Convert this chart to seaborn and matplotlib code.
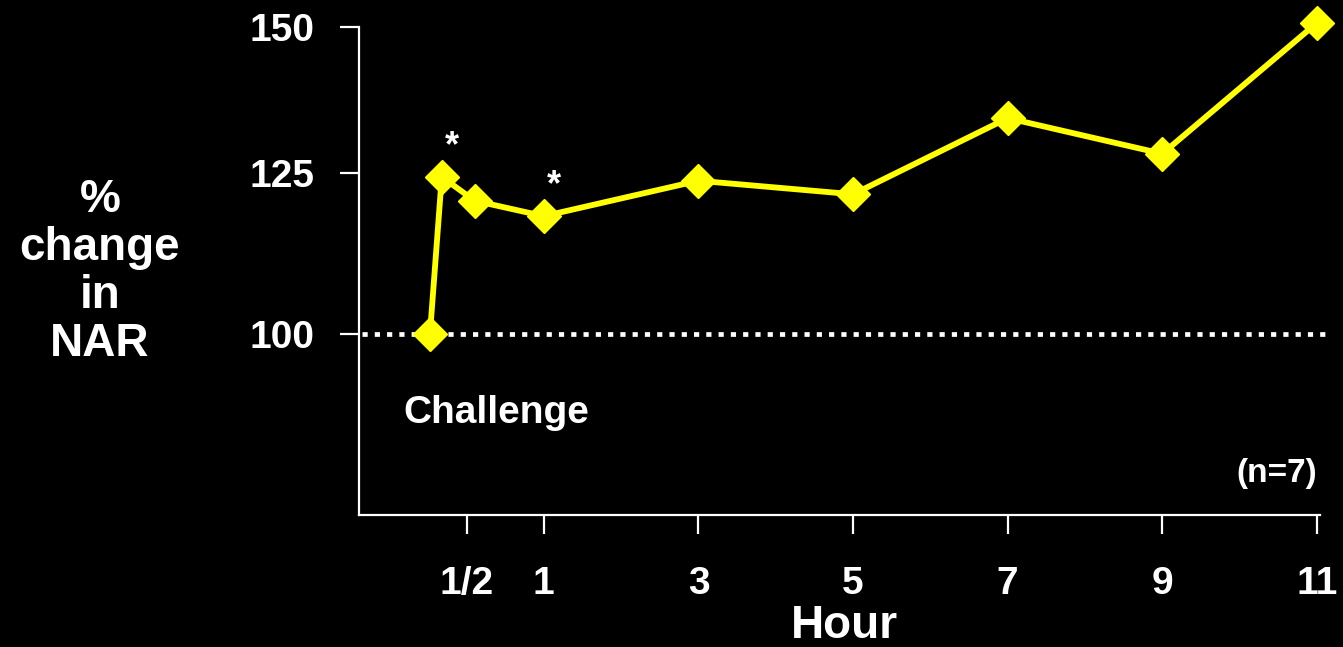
import numpy as np
import matplotlib
matplotlib.use("Agg")
import matplotlib.pyplot as plt
import pandas as pd
import seaborn as sns

# data
hours = [0, 0.16, 0.55, 1.0, 3, 5, 7, 9, 11]
nar_change = [100, 124.4, 120.7, 118.3, 123.8, 121.7, 134.4, 128.3, 150.7]
star_points = [1, 3]  # indices marked with *
x_ticks = [0.5, 1, 3, 5, 7, 9, 11]
x_tick_labels = ['1/2', '1', '3', '5', '7', '9', '11']
y_ticks = [100, 125, 150]

df = pd.DataFrame({'hour': hours, 'nar': nar_change})

# the original axes are hand drawn and not evenly spaced, so use piecewise scales
x_knots = [-2, 0, 0.5, 1, 11, 13]
x_pos = [-148, 0, 37, 114, 888, 1042.8]
y_knots = [50, 100, 125, 150, 200]
y_pos = [-322, 0, 161, 307, 599]


def x_fwd(v):
    return np.interp(v, x_knots, x_pos)


def x_inv(v):
    return np.interp(v, x_pos, x_knots)


def y_fwd(v):
    return np.interp(v, y_knots, y_pos)


def y_inv(v):
    return np.interp(v, y_pos, y_knots)


sns.set_style('dark')
plt.rcParams['font.family'] = ['Liberation Sans', 'DejaVu Sans']
plt.rcParams['font.weight'] = 'bold'

fig = plt.figure(figsize=(13.43, 6.47), dpi=100, facecolor='black')
ax = fig.add_axes([359 / 1343, 132 / 647, 961 / 1343, 488 / 647])
ax.set_facecolor('black')

ax.axhline(100, xmin=0.003, xmax=1.008, color='white', lw=3.4,
           linestyle=(0, (1.1, 1.5)), clip_on=False, zorder=1)

sns.lineplot(data=df, x='hour', y='nar', ax=ax, color='#FFFF00', lw=4.2,
             marker='D', markersize=17, markeredgecolor='#FFFF00',
             markeredgewidth=1, estimator=None, sort=False, clip_on=False,
             zorder=3)

ax.set_xscale('function', functions=(x_fwd, x_inv))
ax.set_yscale('function', functions=(y_fwd, y_inv))
ax.set_xlim(-0.96, 11.04)
ax.set_ylim(71.9, 150)

ax.set_xticks(x_ticks)
ax.set_xticklabels(x_tick_labels)
ax.set_yticks(y_ticks)
ax.set_yticklabels([str(t) for t in y_ticks])
ax.minorticks_off()
ax.grid(False)

for side in ['top', 'right']:
    ax.spines[side].set_visible(False)
for side in ['left', 'bottom']:
    ax.spines[side].set_visible(True)
    ax.spines[side].set_color('white')
    ax.spines[side].set_linewidth(1.6)

ax.tick_params(axis='both', colors='white', length=14, width=1.6,
               direction='out', labelsize=28, bottom=True, left=True)
ax.tick_params(axis='x', pad=23)
ax.tick_params(axis='y', pad=18)
for lab in ax.get_xticklabels() + ax.get_yticklabels():
    lab.set_fontweight('bold')

ax.set_xlabel('')
ax.set_ylabel('')

# significance stars
for i in star_points:
    ax.annotate('*', (hours[i], nar_change[i]), xytext=(7, 22),
                textcoords='offset points', ha='center', va='center',
                color='white', fontsize=26, fontweight='bold')

ax.text(0.046, 0.1885, 'Challenge', transform=ax.transAxes, color='white',
        fontsize=28, fontweight='bold', ha='left', va='baseline')
ax.text(0.997, 0.0676, '(n=7)', transform=ax.transAxes, color='white',
        fontsize=24, fontweight='bold', ha='right', va='baseline')

fig.text(100 / 1343, 1 - 272 / 647, '%\nchange\nin\nNAR', color='white',
         fontsize=33, fontweight='bold', ha='center', va='center',
         multialignment='center', linespacing=1.12)
fig.text(844 / 1343, 9 / 647, 'Hour', color='white', fontsize=33,
         fontweight='bold', ha='center', va='baseline')

fig.savefig('out.png', dpi=100, facecolor='black')
